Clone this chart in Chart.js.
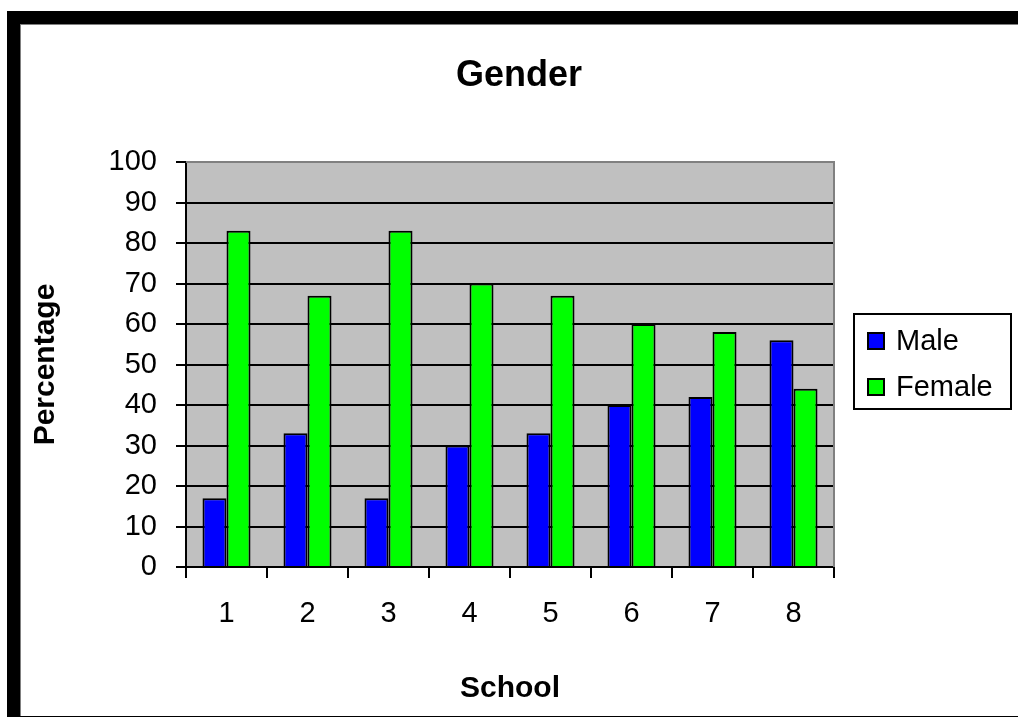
<!DOCTYPE html>
<html>
<head>
<meta charset="utf-8">
<script src="https://cdn.jsdelivr.net/npm/chart.js@4"></script>
<style>
  html, body { margin: 0; padding: 0; background: #ffffff; }
  canvas { display: block; }
</style>
</head>
<body>
<canvas id="chart" width="1018" height="718"></canvas>
<script>
// School-level gender split (percent)
const categories = ['1', '2', '3', '4', '5', '6', '7', '8'];
const maleValues = [17, 33, 17, 30, 33, 40, 42, 56];
const femaleValues = [83, 67, 83, 70, 67, 60, 58, 44];
const seriesNames = ['Male', 'Female'];
const yMin = 0;
const yMax = 100;
const yStep = 10;

const FONT = '"Liberation Sans", Arial, sans-serif';

// White page with the heavy black frame on the top and left edges
const framePlugin = {
  id: 'frame',
  beforeDraw(chart) {
    const ctx = chart.ctx;
    const { left, top, right, bottom } = chart.chartArea;
    ctx.save();
    ctx.fillStyle = '#ffffff';
    ctx.fillRect(0, 0, chart.width, chart.height);
    ctx.fillStyle = '#000000';
    ctx.fillRect(7, 11, chart.width - 7, 13);
    ctx.fillRect(7, 11, 13, 706);
    ctx.fillRect(7, 716, chart.width - 7, 1);
    ctx.fillStyle = '#808080';
    ctx.fillRect(20, 24, chart.width - 20, 1);
    ctx.fillRect(20, 24, 1, 692);
    // plot area fill
    ctx.fillStyle = '#c0c0c0';
    ctx.fillRect(left, top, right - left, bottom - top);
    ctx.restore();
  },
  beforeDatasetsDraw(chart) {
    const ctx = chart.ctx;
    const { left, top, right, bottom } = chart.chartArea;
    ctx.save();
    ctx.strokeStyle = '#808080';
    ctx.lineWidth = 2;
    ctx.beginPath();
    ctx.moveTo(left, top);
    ctx.lineTo(right, top);
    ctx.lineTo(right, bottom);
    ctx.stroke();
    ctx.restore();
  }
};

// Boxed legend to the right of the plot area
const boxLegendPlugin = {
  id: 'boxLegend',
  afterDraw(chart) {
    const ctx = chart.ctx;
    const box = { x: 854, y: 314, w: 157, h: 95 };
    ctx.save();
    ctx.fillStyle = '#ffffff';
    ctx.fillRect(box.x, box.y, box.w, box.h);
    ctx.strokeStyle = '#000000';
    ctx.lineWidth = 2;
    ctx.strokeRect(box.x, box.y, box.w, box.h);
    ctx.font = '29px ' + FONT;
    ctx.textBaseline = 'middle';
    ctx.textAlign = 'left';
    chart.data.datasets.forEach((ds, i) => {
      const cy = 341 + i * 46;
      ctx.fillStyle = ds.backgroundColor;
      ctx.fillRect(868, cy - 8, 16, 16);
      ctx.lineWidth = 2;
      ctx.strokeStyle = '#000000';
      ctx.strokeRect(868, cy - 8, 16, 16);
      ctx.fillStyle = '#000000';
      ctx.fillText(ds.label, 896, cy + 1);
    });
    ctx.restore();
  }
};

new Chart(document.getElementById('chart'), {
  type: 'bar',
  data: {
    labels: categories,
    datasets: [
      {
        label: seriesNames[0],
        data: maleValues,
        backgroundColor: '#0000ff',
        borderColor: '#000000',
        borderWidth: 2,
        categoryPercentage: 0.593,
        barPercentage: 1.0
      },
      {
        label: seriesNames[1],
        data: femaleValues,
        backgroundColor: '#00ff00',
        borderColor: '#000000',
        borderWidth: 2,
        categoryPercentage: 0.593,
        barPercentage: 1.0
      }
    ]
  },
  options: {
    responsive: false,
    animation: false,
    layout: { padding: { left: 20, top: 24, right: 0, bottom: 2 } },
    plugins: {
      legend: { display: false },
      tooltip: { enabled: false },
      title: {
        display: true,
        text: 'Gender',
        color: '#000000',
        font: { family: FONT, size: 36, weight: 'bold' },
        padding: { top: 30, bottom: 64.8 }
      }
    },
    scales: {
      x: {
        offset: true,
        grid: {
          display: true,
          offset: true,
          drawOnChartArea: false,
          drawTicks: true,
          tickLength: 11,
          color: '#000000',
          lineWidth: 2
        },
        border: { display: true, color: '#000000', width: 2 },
        ticks: {
          color: '#000000',
          font: { family: FONT, size: 29 },
          padding: 19,
          maxRotation: 0
        },
        title: {
          display: true,
          text: 'School',
          color: '#000000',
          font: { family: FONT, size: 30, weight: 'bold' },
          padding: { top: 0, bottom: 9 }
        },
        afterFit(scale) { scale.height = 149; }
      },
      y: {
        min: yMin,
        max: yMax,
        grid: {
          color: '#000000',
          lineWidth: 2,
          drawTicks: true,
          tickLength: 10
        },
        border: { display: true, color: '#000000', width: 2 },
        ticks: {
          stepSize: yStep,
          color: '#000000',
          font: { family: FONT, size: 29 },
          padding: 19
        },
        title: {
          display: true,
          text: 'Percentage',
          color: '#000000',
          font: { family: FONT, size: 30, weight: 'bold' },
          padding: { top: 8, bottom: 0 }
        },
        afterFit(scale) { scale.width = 166; }
      },
      // empty right-hand band that holds the legend box
      legendSpace: {
        type: 'linear',
        position: 'right',
        display: true,
        grid: { display: false, drawOnChartArea: false, drawTicks: false },
        border: { display: false },
        ticks: { display: false },
        afterFit(scale) { scale.width = 184; }
      }
    }
  },
  plugins: [framePlugin, boxLegendPlugin]
});
</script>
</body>
</html>
